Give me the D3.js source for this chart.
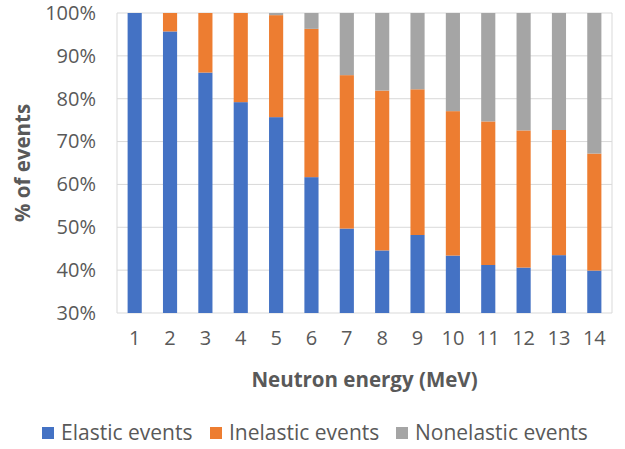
<!DOCTYPE html>
<html>
<head>
<meta charset="utf-8">
<script src="https://cdn.jsdelivr.net/npm/d3@7"></script>
<style>
  html, body { margin: 0; padding: 0; background: #fff; }
  svg { display: block; font-family: "Open Sans", Lato, sans-serif; }
</style>
</head>
<body>
<svg id="chart" width="625" height="449"></svg>
<script>
const categories = ["1","2","3","4","5","6","7","8","9","10","11","12","13","14"];
const elastic    = [100, 95.7, 86.1, 79.2, 75.7, 61.7, 49.7, 44.6, 48.2, 43.4, 41.2, 40.6, 43.5, 39.9];
const inelastic  = [0, 4.3, 13.9, 20.8, 23.8, 34.6, 35.8, 37.3, 34.0, 33.7, 33.5, 32.0, 29.2, 27.3];
const nonelastic = [0, 0, 0, 0, 0.5, 3.7, 14.5, 18.1, 17.8, 22.9, 25.3, 27.4, 27.3, 32.8];
const seriesNames = ["Elastic events", "Inelastic events", "Nonelastic events"];
const seriesColors = ["#4472c4", "#ed7d31", "#a5a5a5"];
const yTicks = [30, 40, 50, 60, 70, 80, 90, 100];

const FONT = '"Open Sans", Lato, sans-serif';
const svg = d3.select("#chart");
const m = { left: 117, right: 612, top: 13, bottom: 313 };

const x = d3.scaleBand().domain(categories).range([m.left, m.right]).paddingInner(0.6).paddingOuter(0.3);
const y = d3.scaleLinear().domain([30, 100]).range([m.bottom, m.top]);

const rows = categories.map((c, i) => ({ cat: c, s0: elastic[i], s1: inelastic[i], s2: nonelastic[i] }));
const stacked = d3.stack().keys(["s0", "s1", "s2"])(rows);

// gridlines and plot frame
svg.append("g").selectAll("line").data(yTicks).join("line")
  .attr("x1", m.left).attr("x2", m.right)
  .attr("y1", d => y(d)).attr("y2", d => y(d))
  .attr("stroke", "#d9d9d9").attr("stroke-width", 1);
svg.append("line").attr("x1", m.left).attr("x2", m.left).attr("y1", m.top).attr("y2", m.bottom).attr("stroke", "#d9d9d9");
svg.append("line").attr("x1", m.right).attr("x2", m.right).attr("y1", m.top).attr("y2", m.bottom).attr("stroke", "#d9d9d9");

svg.append("clipPath").attr("id", "clip").append("rect")
  .attr("x", m.left).attr("y", m.top).attr("width", m.right - m.left).attr("height", m.bottom - m.top);

const barsG = svg.append("g").attr("clip-path", "url(#clip)");
stacked.forEach((layer, li) => {
  barsG.append("g").attr("fill", seriesColors[li]).selectAll("rect").data(layer).join("rect")
    .attr("x", d => x(d.data.cat))
    .attr("width", x.bandwidth())
    .attr("y", d => y(Math.min(100, d[1])))
    .attr("height", d => Math.max(0, y(Math.max(30, d[0])) - y(Math.min(100, d[1]))));
});

// y axis labels
const yAxis = d3.axisLeft(y).tickValues(yTicks).tickFormat(d => d + "%").tickSize(0).tickPadding(0);
const yg = svg.append("g").attr("transform", `translate(${m.left - 21},0)`).call(yAxis);
yg.select(".domain").remove();
yg.selectAll("text").attr("fill", "#595959").style("font-size", "20px").style("font-family", FONT);

// x axis labels
const xAxis = d3.axisBottom(x).tickSize(0).tickPadding(0);
const xg = svg.append("g").attr("transform", `translate(0,${m.bottom + 18})`).call(xAxis);
xg.select(".domain").remove();
xg.selectAll("text").attr("fill", "#595959").style("font-size", "20px").style("font-family", FONT);

// axis titles
svg.append("text").attr("x", (m.left + m.right) / 2).attr("y", 386.5)
  .attr("text-anchor", "middle").attr("fill", "#595959")
  .style("font-size", "20.5px").style("font-weight", "bold").text("Neutron energy (MeV)");
svg.append("text").attr("transform", `translate(30,${(m.top + m.bottom) / 2}) rotate(-90)`)
  .attr("text-anchor", "middle").attr("fill", "#595959")
  .style("font-size", "20.5px").style("font-weight", "bold").text("% of events");

// legend
const legendX = [42, 210, 396];
const lg = svg.append("g");
seriesNames.forEach((name, i) => {
  lg.append("rect").attr("x", legendX[i]).attr("y", 427).attr("width", 12).attr("height", 12).attr("fill", seriesColors[i]);
  lg.append("text").attr("x", legendX[i] + 19).attr("y", 440).attr("fill", "#595959")
    .style("font-size", "21px").text(name);
});
</script>
</body>
</html>
